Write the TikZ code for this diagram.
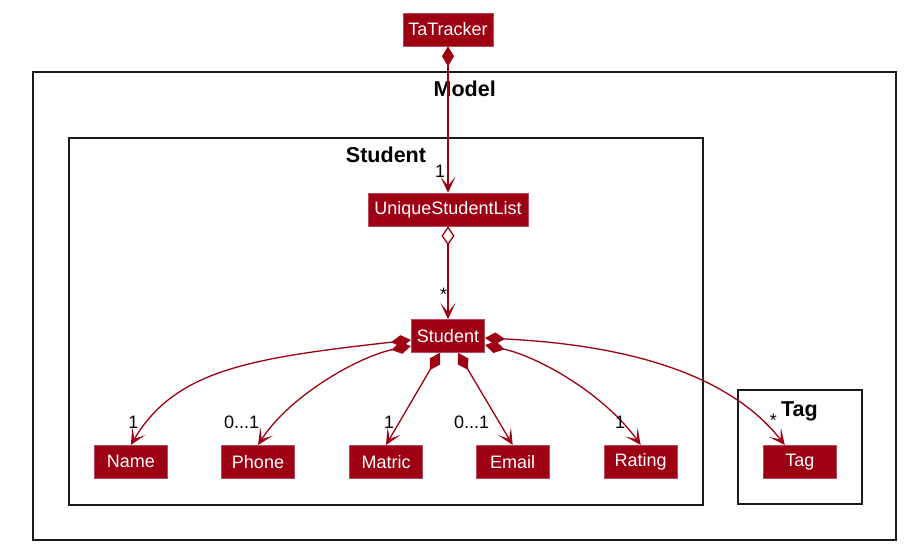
\documentclass[tikz,border=0pt]{standalone}
\usepackage{fontspec}
\setmainfont{Liberation Sans}
\usetikzlibrary{arrows.meta,calc}
\definecolor{mred}{HTML}{9D0012}
\definecolor{mborder}{HTML}{B84A60}
\definecolor{frameblack}{HTML}{1A1A1A}
\begin{document}
\begin{tikzpicture}[x=1pt,y=-1pt,
  cls/.style={fill=mred, draw=mborder, line width=0.6pt, text=white, minimum height=33pt,
    inner sep=0pt, font=\fontsize{18}{20}\selectfont},
  frm/.style={draw=frameblack, line width=1.4pt},
  ttl/.style={anchor=base, inner sep=0pt, font=\fontsize{21.5}{24}\selectfont\bfseries},
  lbl/.style={anchor=base, inner sep=0pt, font=\fontsize{18}{20}\selectfont},
  comp/.style={draw=mred, line width=1.3pt,
    arrows={Diamond[length=20pt,width=12pt,fill=mred]-Stealth[length=16pt,width=15pt,inset=9pt,fill=mred]}},
  aggr/.style={draw=mred, line width=1.3pt,
    arrows={Diamond[open,length=19pt,width=13pt,fill=white]-Stealth[length=16pt,width=15pt,inset=9pt,fill=mred]}}
]
\useasboundingbox (0,0) rectangle (912,555);

% frames
\draw[frm] (33,72) rectangle (896,540);
\draw[frm] (69,138) rectangle (703,505);
\draw[frm] (738,390) rectangle (862,504);
\node[ttl] (tModel) at (464.7,96.7) {Model};
\node[ttl] (tStudent) at (386,162) {Student};
\node[ttl] (tTag) at (799.5,416) {Tag};

% classes
\node[cls, minimum width=90pt] (tat) at (448,29.5) {TaTracker};
\node[cls, minimum width=160pt] (usl) at (448,209.5) {UniqueStudentList};
\node[cls, minimum width=73.4pt] (stu) at (448,336) {Student};
\node[cls, minimum width=73pt] (name) at (130.8,461.8) {Name};
\node[cls, minimum width=73.4pt] (phone) at (258,461.8) {Phone};
\node[cls, minimum width=73.4pt] (matric) at (386,461.8) {Matric};
\node[cls, minimum width=73.3pt] (email) at (512.7,461.8) {Email};
\node[cls, minimum width=73.3pt] (rating) at (640.7,461.8) {Rating};
\node[cls, minimum width=73.7pt] (tag) at (799.8,461.8) {Tag};

% connectors
\draw[comp] (tat.south) -- (usl.north);
\draw[aggr] (usl.south) -- (stu.north);
\draw[comp] ($(stu.west)+(0,4)$) .. controls (250,358) and (175,370) .. (name.north);
\draw[comp] ($(stu.west)+(0,10)$) .. controls (360,356) and (290,395) .. (phone.north);
\draw[comp] ($(stu.south)+(-8,0)$) -- (matric.north);
\draw[comp] ($(stu.south)+(10,0)$) -- (email.north);
\draw[comp] ($(stu.east)+(0,9)$) .. controls (540,357) and (605,395) .. (rating.north);
\draw[comp] ($(stu.east)+(0,2)$) .. controls (630,345) and (730,375) .. ($(tag.north)+(-15,0)$);

% multiplicities
\node[lbl] (m1) at (440,177) {1};
\node[lbl] (m2) at (443.5,300) {*};
\node[lbl] (m3) at (133.5,428) {1};
\node[lbl] (m4) at (241.7,428) {0...1};
\node[lbl] (m5) at (389,428) {1};
\node[lbl] (m6) at (471.7,428) {0...1};
\node[lbl] (m7) at (620,428) {1};
\node[lbl] (m8) at (773.3,426) {*};
\end{tikzpicture}
\end{document}
